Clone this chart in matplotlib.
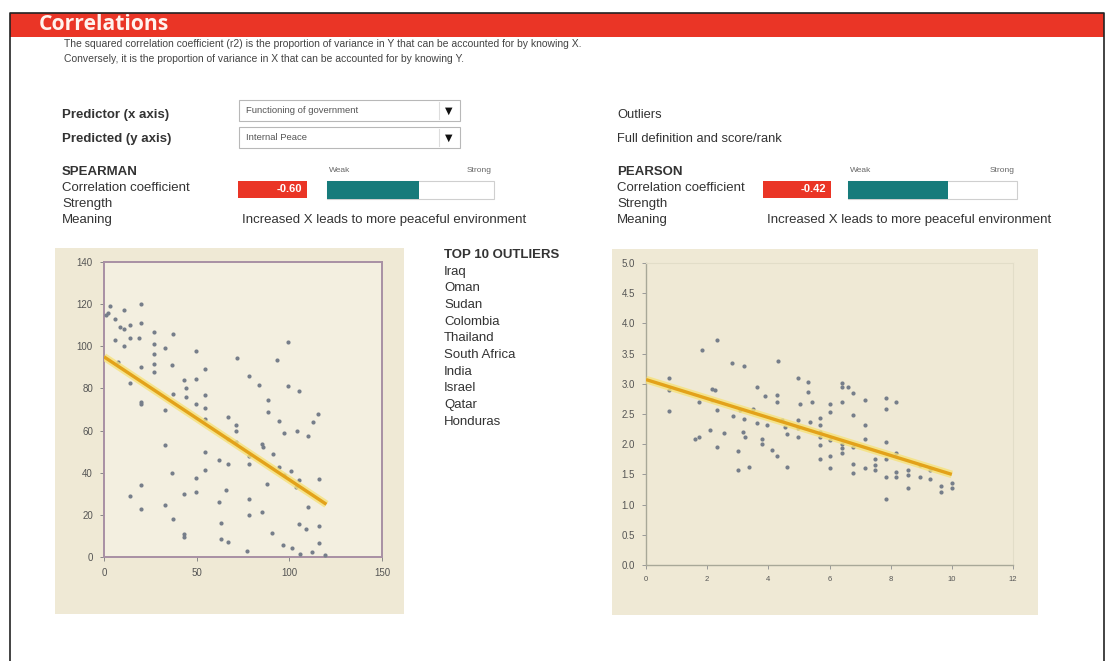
import matplotlib
matplotlib.use("Agg")
import matplotlib.pyplot as plt
from matplotlib.patches import Rectangle
import numpy as np

W, H = 1111, 661

# ---------------- data ----------------
spearman_x = [2, 3, 1, 6, 8.4, 10.6, 11, 14, 14, 5.7, 10.6, 20, 20, 19, 27, 27, 27, 27, 27,
              33, 37, 36.8, 20, 7.5, 14, 20, 20, 37, 33, 49.6, 43, 49.6, 44, 44, 49.6,
              54.7, 54.7, 54.7, 54.7, 33, 36.8, 33, 37, 14, 20, 20, 43, 43, 43, 49.6, 49.6,
              54.7, 54.7, 62, 66.7, 66.7, 71, 71, 66.7, 71, 62, 63, 65.8, 63, 66.7, 72, 78,
              78, 78, 78, 78, 77.4, 83.7, 85, 85.8, 85, 88.7, 88.7, 91, 87.8, 90.5, 93.5,
              94.4, 94.4, 97, 97, 96.8, 99.5, 99.5, 101, 101.6, 105, 104, 105, 103.4, 105,
              106, 110, 110, 109, 113, 115.6, 116, 116, 116, 112, 119]
spearman_y = [116, 119, 115, 113, 109, 117, 108, 110, 104, 103, 100, 120, 111, 104, 107, 101,
              96.5, 91.5, 88, 99, 106, 91, 90, 92.5, 82.6, 73.6, 72.5, 77.5, 69.6, 98, 84,
              84.6, 80, 76, 72.8, 89, 76.7, 70.7, 65.7, 53, 40, 24.5, 18, 28.8, 34, 23, 29.7,
              11, 9.5, 37.7, 30.9, 50, 41.5, 46, 44.3, 66.5, 62.5, 60, 56, 54.6, 26, 16, 31.6,
              8.7, 7, 94.6, 85.8, 47.8, 44, 27.7, 19.8, 3, 81.5, 53.5, 52, 21.4, 74.4, 68.8,
              49, 34.8, 11.4, 93.7, 64.4, 42.7, 58.9, 38.8, 5.5, 102, 81, 41, 4.4, 78.8, 59.8,
              36.4, 33, 15.8, 1.6, 57.4, 23.7, 13.4, 64, 67.7, 37.2, 14.6, 6.6, 2.4, 0.8]
spearman_fit_x = [0, 120]
spearman_fit_y = [95, 25]

pearson_x = [0.74, 0.74, 0.74, 1.83, 2.32, 1.73, 1.61, 1.72, 2.15, 2.26, 2.15, 2.32, 2.10, 2.32,
             2.56, 2.81, 3.19, 2.84, 3.08, 3.19, 3.17, 3.24, 3.02, 3.02, 3.38, 3.51, 3.62, 3.62,
             3.79, 3.79, 3.90, 3.95, 4.11, 4.28, 4.28, 4.28, 4.33, 4.44, 4.60, 4.60, 4.98, 5.04,
             4.98, 4.98, 4.98, 5.31, 5.31, 5.42, 5.36, 5.69, 5.69, 5.69, 5.69, 5.69, 5.69, 6.02,
             6.02, 6.02, 6.02, 6.02, 6.40, 6.40, 6.62, 6.40, 6.40, 6.40, 6.40, 6.78, 6.78, 6.78,
             6.78, 6.78, 7.16, 7.16, 7.16, 7.16, 7.49, 7.49, 7.49, 7.85, 7.85, 7.85, 7.85, 7.85,
             7.85, 8.19, 8.19, 8.19, 8.19, 8.57, 8.57, 8.57, 8.96, 8.96, 9.28, 9.28, 9.63, 9.63,
             9.99, 9.99, 4.55]
pearson_y = [3.10, 2.89, 2.55, 3.56, 3.72, 2.70, 2.08, 2.12, 2.92, 2.89, 2.73, 2.57, 2.23, 1.96,
             2.19, 3.34, 3.29, 2.46, 2.56, 2.41, 2.21, 2.12, 1.89, 1.58, 1.62, 2.59, 2.95, 2.35,
             2.08, 2.01, 2.79, 2.32, 1.90, 1.80, 2.81, 2.70, 3.38, 2.40, 2.17, 1.62, 3.09, 2.67,
             2.40, 2.26, 2.12, 3.03, 2.87, 2.70, 2.37, 2.43, 2.32, 2.21, 2.12, 1.98, 1.76, 2.67,
             2.54, 2.07, 1.80, 1.60, 3.02, 2.95, 2.95, 2.70, 2.01, 1.93, 1.85, 2.84, 2.48, 1.96,
             1.68, 1.52, 2.73, 2.32, 2.08, 1.60, 1.76, 1.65, 1.57, 2.76, 2.59, 2.04, 1.76, 1.45,
             1.10, 2.70, 1.85, 1.54, 1.45, 1.58, 1.49, 1.27, 1.65, 1.45, 1.57, 1.42, 1.30, 1.21,
             1.35, 1.27, 2.29]
pearson_fit_x = [0, 10]
pearson_fit_y = [3.07, 1.50]

spearman_value = "-0.60"
pearson_value = "-0.42"
spearman_strength = 0.55   # fraction of bar filled
pearson_strength = 0.59

outliers = ["Iraq", "Oman", "Sudan", "Colombia", "Thailand", "South Africa",
            "India", "Israel", "Qatar", "Honduras"]

left_xticks = [0, 50, 100, 150]
left_yticks = [0, 20, 40, 60, 80, 100, 120, 140]
right_xticks = [0, 2, 4, 6, 8, 10, 12]
right_yticks = [0.0, 0.5, 1.0, 1.5, 2.0, 2.5, 3.0, 3.5, 4.0, 4.5, 5.0]

# ---------------- styles ----------------
RED = "#EA3526"
TEAL = "#177B7B"
BEIGE = "#EFE9D5"
TXT = "#333333"
DOT = "#767E8A"
FONT = ["Liberation Sans", "DejaVu Sans"]
plt.rcParams["font.family"] = FONT

fig = plt.figure(figsize=(W / 100, H / 100), dpi=100)
fig.patch.set_facecolor("white")
bg = fig.add_axes([0, 0, 1, 1])
bg.set_xlim(0, W)
bg.set_ylim(H, 0)
bg.axis("off")

def rect(x0, y0, x1, y1, fc, ec="none", lw=0, z=1):
    bg.add_patch(Rectangle((x0, y0), x1 - x0, y1 - y0, facecolor=fc, edgecolor=ec, lw=lw, zorder=z))

def txt(x, y, s, size=9.5, weight="normal", color=TXT, ha="left", family=FONT):
    bg.text(x, y, s, fontsize=size, fontweight=weight, color=color, ha=ha, va="center",
            family=family, zorder=5)

# frame + header
bg.plot([10, 10, 1104, 1104], [661, 13, 13, 661], color="#222222", lw=1.2, zorder=6)
rect(10, 13, 1104, 37, RED, z=2)
txt(39, 24.5, "Correlations", size=15.2, weight="bold", color="#FFF3EE", family=["Open Sans", "DejaVu Sans"])
txt(64, 44, "The squared correlation coefficient (r2) is the proportion of variance in Y that can be accounted for by knowing X.", size=7.5, color="#444444")
txt(64, 59, "Conversely, it is the proportion of variance in X that can be accounted for by knowing Y.", size=7.5, color="#444444")

# selectors
txt(62, 115, "Predictor (x axis)", size=9.5, weight="bold")
txt(62, 139, "Predicted (y axis)", size=9.5, weight="bold")
for (y0, y1, label) in [(100, 121, "Functioning of government"), (127, 148, "Internal Peace")]:
    rect(239, y0, 460, y1, "white", ec="#B8B8B8", lw=0.8, z=2)
    bg.plot([439, 439], [y0 + 2, y1 - 2], color="#DDDDDD", lw=0.8, zorder=3)
    txt(246, (y0 + y1) / 2, label, size=6.8, color="#555555")
    txt(449, (y0 + y1) / 2, "\u25BC", size=7, color="#111111", ha="center", family=["DejaVu Sans"])

txt(617, 115, "Outliers", size=9.3)
txt(617, 139, "Full definition and score/rank", size=9.3)

def corr_block(x_lab, title, value, box_x0, box_x1, bar_x0, bar_x1, frac, mean_x):
    txt(x_lab, 172, title, size=9.5, weight="bold")
    txt(x_lab, 188, "Correlation coefficient", size=9.5)
    txt(x_lab, 204, "Strength", size=9.5)
    txt(x_lab, 220, "Meaning", size=9.5)
    rect(box_x0, 181, box_x1, 198, RED, z=2)
    txt(box_x1 - 5, 189.5, value, size=8, weight="bold", color="white", ha="right")
    rect(bar_x0, 181, bar_x1, 199, "white", ec="#CFCFCF", lw=0.8, z=2)
    rect(bar_x0, 181, bar_x0 + frac * (bar_x1 - bar_x0), 199, TEAL, z=3)
    txt(bar_x0 + 2, 170, "Weak", size=6, color="#666666")
    txt(bar_x1 - 2, 170, "Strong", size=6, color="#666666", ha="right")
    txt(mean_x, 220, "Increased X leads to more peaceful environment", size=9.5)

corr_block(62, "SPEARMAN", spearman_value, 238, 307, 327, 494, spearman_strength, 242)
corr_block(617, "PEARSON", pearson_value, 763, 831, 848, 1017, pearson_strength, 767)

# outliers list
txt(444, 255, "TOP 10 OUTLIERS", size=9.5, weight="bold")
for i, name in enumerate(outliers):
    txt(444, 271.5 + 16.7 * i, name, size=9.5)

# chart panels
rect(55, 248, 404, 614, BEIGE, z=1)
rect(612, 249, 1038, 615, BEIGE, z=1)

def pix_axes(x0, y0, x1, y1):
    return fig.add_axes([x0 / W, (H - y1) / H, (x1 - x0) / W, (y1 - y0) / H])

# left chart
axl = pix_axes(104, 262, 382, 557)
axl.set_facecolor("#F3EFE0")
axl.scatter(spearman_x, spearman_y, s=9, color=DOT, zorder=3, linewidths=0)
axl.plot(spearman_fit_x, spearman_fit_y, color="#F6E27A", lw=5.5, alpha=0.8, solid_capstyle="butt", zorder=4)
axl.plot(spearman_fit_x, spearman_fit_y, color="#E3A21A", lw=2.4, solid_capstyle="butt", zorder=5)
axl.set_xlim(0, 150)
axl.set_ylim(0, 140)
axl.set_xticks(left_xticks)
axl.set_yticks(left_yticks)
for sp in axl.spines.values():
    sp.set_color("#A890A4")
    sp.set_linewidth(1.4)
axl.tick_params(labelsize=7, labelcolor="#555555", color="#888888", length=3, width=0.7, pad=5)

# right chart
axr = pix_axes(646, 263, 1013, 565)
axr.set_facecolor(BEIGE)
axr.scatter(pearson_x, pearson_y, s=9, color=DOT, zorder=3, linewidths=0)
axr.plot(pearson_fit_x, pearson_fit_y, color="#F6E27A", lw=5.5, alpha=0.8, solid_capstyle="butt", zorder=4)
axr.plot(pearson_fit_x, pearson_fit_y, color="#E3A21A", lw=2.4, solid_capstyle="butt", zorder=5)
axr.set_xlim(0, 12)
axr.set_ylim(0, 5)
axr.set_xticks(right_xticks)
axr.set_yticks(right_yticks)
axr.set_yticklabels([f"{v:.1f}" for v in right_yticks])
for name, sp in axr.spines.items():
    if name in ("left", "bottom"):
        sp.set_color("#A8A898")
        sp.set_linewidth(1.0)
    else:
        sp.set_color("#E2DDC8")
        sp.set_linewidth(0.8)
axr.tick_params(labelsize=7, labelcolor="#555555", color="#999999", length=3, width=0.7, pad=5)
axr.tick_params(axis="x", labelsize=5.5)

fig.savefig("out.png", dpi=100, facecolor="white")
